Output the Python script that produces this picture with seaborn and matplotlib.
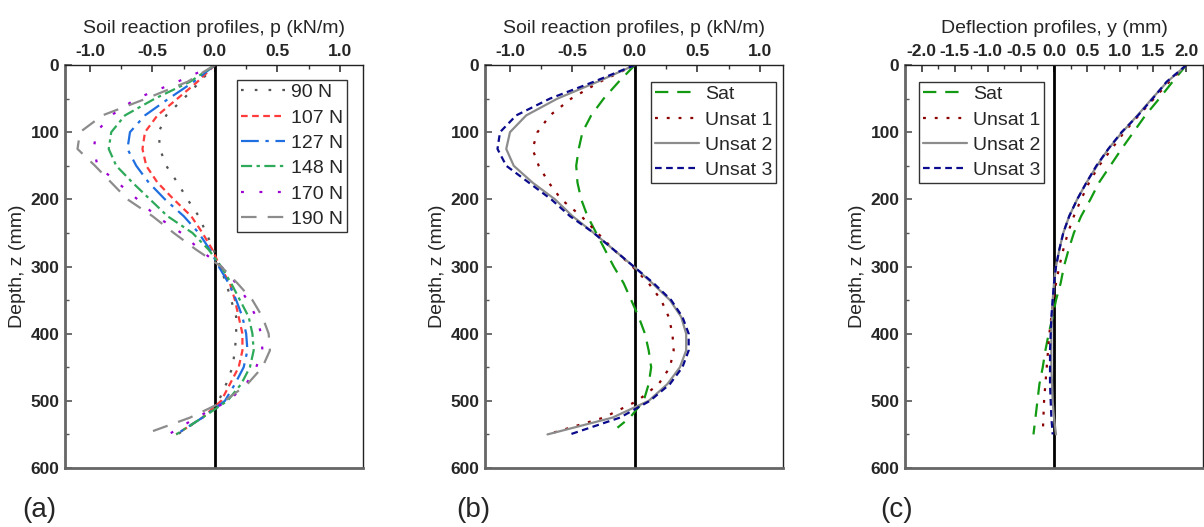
import matplotlib
matplotlib.use("Agg")
import matplotlib.pyplot as plt
import seaborn as sns
import numpy as np
import pandas as pd
from matplotlib.ticker import MultipleLocator

# ---------------- data ----------------
depth = [0, 25, 50, 75, 100, 125, 150, 175, 200, 225, 250, 275, 300,
         325, 350, 375, 400, 425, 450, 475, 500, 525, 550]

# panel (a) soil reaction p (kN/m) vs lateral load
loads = ["90 N", "107 N", "127 N", "148 N", "170 N", "190 N"]
p_90 = [0, -0.12, -0.25, -0.39, -0.45, -0.44, -0.39, -0.30, -0.22, -0.13, -0.07, -0.01, 0.04,
        0.09, 0.13, 0.17, 0.17, 0.16, 0.14, 0.09, 0.03, -0.10, -0.30]
p_107 = [0, -0.14, -0.30, -0.46, -0.56, -0.58, -0.55, -0.46, -0.33, -0.19, -0.10, -0.02, 0.04,
         0.12, 0.16, 0.19, 0.22, 0.22, 0.19, 0.12, 0.05, -0.10, -0.31]
p_127 = [0, -0.17, -0.37, -0.56, -0.68, -0.70, -0.63, -0.53, -0.40, -0.25, -0.13, -0.04, 0.03,
         0.11, 0.17, 0.22, 0.25, 0.26, 0.23, 0.16, 0.08, -0.10, -0.31]
p_148 = [0, -0.20, -0.48, -0.72, -0.83, -0.85, -0.79, -0.66, -0.52, -0.38, -0.18, -0.05, 0.05,
         0.13, 0.20, 0.27, 0.30, 0.31, 0.28, 0.21, 0.10, -0.10, -0.31]
p_170 = [0, -0.30, -0.63, -0.83, -0.95, -0.97, -0.94, -0.78, -0.62, -0.47, -0.27, -0.12, 0.05,
         0.17, 0.26, 0.33, 0.37, 0.38, 0.33, 0.25, 0.11, -0.15, -0.37]
p_190 = [0, -0.22, -0.55, -0.90, -1.08, -1.10, -0.96, -0.83, -0.70, -0.50, -0.33, -0.15, 0.05,
         0.18, 0.30, 0.38, 0.43, 0.44, 0.38, 0.26, 0.08, -0.20, -0.57]

# panel (b) soil reaction for saturation states
states = ["Sat", "Unsat 1", "Unsat 2", "Unsat 3"]
depth_sat = [0, 25, 50, 75, 100, 125, 150, 175, 200, 225, 250, 275, 300,
             325, 350, 375, 400, 425, 450, 475, 500, 525, 540]
p_sat = [0, -0.13, -0.25, -0.35, -0.42, -0.45, -0.47, -0.46, -0.43, -0.38, -0.31, -0.24, -0.17,
         -0.09, -0.03, 0.03, 0.08, 0.11, 0.13, 0.11, 0.07, -0.04, -0.14]
p_un1 = [0, -0.28, -0.51, -0.68, -0.78, -0.82, -0.77, -0.69, -0.59, -0.43, -0.30, -0.17, -0.02,
         0.11, 0.21, 0.27, 0.30, 0.31, 0.28, 0.19, 0.02, -0.25, -0.70]
p_un2 = [0, -0.30, -0.62, -0.87, -1.00, -1.03, -0.97, -0.82, -0.64, -0.50, -0.33, -0.17, -0.01,
         0.14, 0.28, 0.37, 0.41, 0.41, 0.36, 0.26, 0.11, -0.18, -0.70]
p_un3 = [0, -0.33, -0.68, -0.95, -1.08, -1.10, -1.03, -0.85, -0.67, -0.52, -0.33, -0.17, -0.01,
         0.15, 0.29, 0.38, 0.43, 0.43, 0.38, 0.28, 0.12, -0.12, -0.52]

# panel (c) deflection y (mm)
y_sat = [2.0, 1.79, 1.59, 1.38, 1.20, 1.02, 0.85, 0.68, 0.55, 0.41, 0.30, 0.22, 0.15,
         0.10, 0.03, -0.02, -0.08, -0.13, -0.17, -0.22, -0.25, -0.28, -0.31]
y_un1 = [2.0, 1.74, 1.51, 1.28, 1.06, 0.87, 0.68, 0.53, 0.41, 0.30, 0.21, 0.14, 0.08,
         0.03, -0.01, -0.04, -0.07, -0.09, -0.11, -0.13, -0.15, -0.16, -0.17]
y_un2 = [2.0, 1.71, 1.48, 1.26, 1.03, 0.82, 0.65, 0.49, 0.35, 0.23, 0.14, 0.08, 0.03,
         0.0, -0.02, -0.03, -0.04, -0.04, -0.04, -0.03, -0.02, 0.0, 0.03]
y_un3 = [2.0, 1.70, 1.49, 1.27, 1.02, 0.82, 0.64, 0.49, 0.35, 0.23, 0.14, 0.08, 0.03,
         0.0, -0.02, -0.04, -0.05, -0.06, -0.06, -0.06, -0.05, -0.04, -0.02]

# ---------------- styles ----------------
load_styles = [
    ("#555555", (0, (1.2, 5))),
    ("#ff3b3b", (0, (3, 2))),
    ("#1f6fe0", (0, (8, 3, 1.5, 3))),
    ("#2eaa5a", (0, (5, 2, 1.5, 2))),
    ("#9b00d0", (0, (1.3, 7))),
    ("#8c8c8c", (0, (7, 5))),
]
state_styles = [
    ("#129a12", (0, (6, 4))),
    ("#8b0000", (0, (1.3, 4))),
    ("#8c8c8c", "-"),
    ("#0a0a8c", (0, (3, 2))),
]

sns.set_style("ticks")
plt.rcParams["font.family"] = ["Liberation Sans", "DejaVu Sans"]

fig = plt.figure(figsize=(12.04, 5.27), dpi=100)
W, H = 1204, 527
axh = 403 / H
bottom = 1 - 468 / H
ax_a = fig.add_axes([65 / W, bottom, 298 / W, axh])
ax_b = fig.add_axes([485 / W, bottom, 298 / W, axh])
ax_c = fig.add_axes([905 / W, bottom, 298 / W, axh])

lw = 1.6
for lab, vals, (col, ls) in zip(loads, [p_90, p_107, p_127, p_148, p_170, p_190], load_styles):
    sns.lineplot(x=vals, y=depth, sort=False, estimator=None, ax=ax_a,
                 color=col, linestyle=ls, linewidth=lw, label=lab)

for lab, vals, z, (col, ls) in zip(states, [p_sat, p_un1, p_un2, p_un3],
                                   [depth_sat, depth, depth, depth], state_styles):
    sns.lineplot(x=vals, y=z, sort=False, estimator=None, ax=ax_b,
                 color=col, linestyle=ls, linewidth=lw, label=lab)

for lab, vals, (col, ls) in zip(states, [y_sat, y_un1, y_un2, y_un3], state_styles):
    sns.lineplot(x=vals, y=depth, sort=False, estimator=None, ax=ax_c,
                 color=col, linestyle=ls, linewidth=lw, label=lab)

titles = ["Soil reaction profiles, p (kN/m)", "Soil reaction profiles, p (kN/m)",
          "Deflection profiles, y (mm)"]
panel_labels = ["(a)", "(b)", "(c)"]
label_x = [22 / W, 456 / W, 880 / W]

for i, ax in enumerate([ax_a, ax_b, ax_c]):
    ax.axvline(0, color="black", linewidth=2, zorder=1)
    ax.set_ylim(600, 0)
    if i < 2:
        ax.set_xlim(-1.2, 1.185)
    else:
        ax.set_xlim(-2.25, 2.25)
    ax.xaxis.set_major_locator(MultipleLocator(0.5))
    ax.xaxis.set_minor_locator(MultipleLocator(0.25))
    ax.yaxis.set_major_locator(MultipleLocator(100))
    ax.yaxis.set_minor_locator(MultipleLocator(50))
    ax.xaxis.set_major_formatter(matplotlib.ticker.FormatStrFormatter("%.1f"))
    ax.xaxis.set_label_position("top")
    ax.tick_params(axis="x", which="both", top=True, bottom=False, labeltop=True,
                   labelbottom=False, direction="in", color="#333333")
    ax.tick_params(axis="y", which="both", left=True, right=False, direction="in",
                   color="#555555")
    ax.tick_params(which="major", length=5, width=1.2, labelsize=12.5, pad=4)
    ax.tick_params(which="minor", length=3, width=1.0)
    for t in ax.get_xticklabels() + ax.get_yticklabels():
        t.set_fontweight("bold")
    for side in ("left", "bottom"):
        ax.spines[side].set_visible(True)
        ax.spines[side].set_color("#666666")
        ax.spines[side].set_linewidth(2.0)
    for side in ("top", "right"):
        ax.spines[side].set_visible(True)
        ax.spines[side].set_color("#222222")
        ax.spines[side].set_linewidth(1.0)
    ax.set_xlabel(titles[i], fontsize=14, labelpad=8)
    ax.set_ylabel("Depth, z (mm)", fontsize=14, labelpad=3)
    fig.text(label_x[i], 1 - 510 / H, panel_labels[i], fontsize=20, va="center", ha="left")

common = dict(fontsize=14, frameon=True, fancybox=False, framealpha=1,
              edgecolor="#333333", handlelength=2.3, labelspacing=0.4,
              handletextpad=0.3, borderpad=0.18)
leg_a = ax_a.legend(loc="upper right", bbox_to_anchor=(1 - 16 / 298, 1 - 15 / 403), borderaxespad=0, **common)
leg_b = ax_b.legend(loc="upper right", bbox_to_anchor=(1 - 7 / 298, 1 - 17 / 403), borderaxespad=0, **common)
leg_c = ax_c.legend(loc="upper left", bbox_to_anchor=(14 / 298, 1 - 17 / 403), borderaxespad=0, **common)
for leg in (leg_a, leg_b, leg_c):
    leg.get_frame().set_linewidth(1.0)

fig.savefig("out.png", dpi=100)
